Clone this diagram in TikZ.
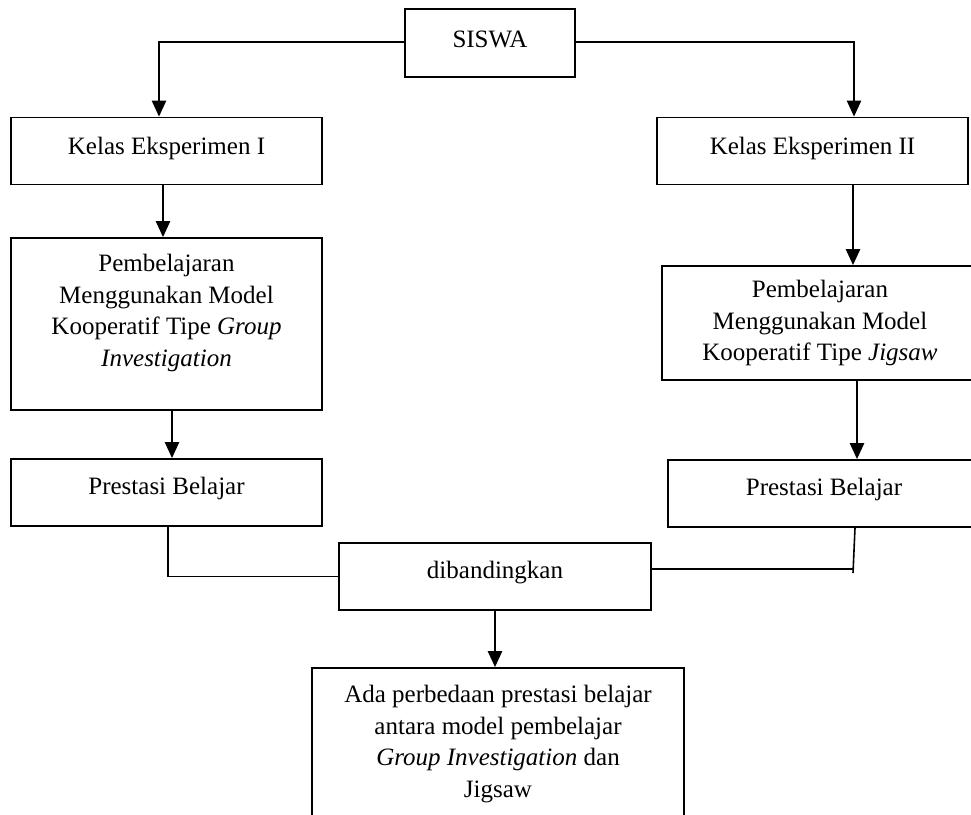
\documentclass[tikz,border=0pt]{standalone}
\usepackage{fontspec}
\setmainfont{Liberation Serif}
\usetikzlibrary{arrows.meta}
\begin{document}
\begin{tikzpicture}[x=1pt,y=-1pt,
  box/.style={draw, line width=1.7pt, inner sep=0pt, minimum width=311pt, minimum height=67pt},
  txt/.style={font=\fontsize{25}{31.5}\selectfont, align=center, inner sep=0pt},
  arr/.style={line width=2.4pt, -{Triangle[width=14pt,length=16pt]}},
  link/.style={line width=1.6pt}]
\useasboundingbox (0,0) rectangle (971,814);
\clip (0,0) rectangle (971,814);
% boxes
\node[box, minimum width=170pt, minimum height=68pt, label={[txt,yshift=4pt]center:SISWA}] (siswa) at (490,43) {};
\node[box, label={[txt,yshift=3pt]center:Kelas Eksperimen I}] (ke1) at (166.5,151) {};
\node[box, label={[txt,yshift=3pt]center:Kelas Eksperimen II}] (ke2) at (812.5,151) {};
\node[box, minimum height=172pt, label={[txt,yshift=11pt]center:Pembelajaran\\Menggunakan Model\\Kooperatif Tipe \textit{Group}\\\textit{Investigation}}] (pb1) at (166.5,324) {};
\node[box, minimum width=316pt, minimum height=114pt, label={[txt,yshift=0pt]center:Pembelajaran\\Menggunakan Model\\Kooperatif Tipe \textit{Jigsaw}}] (pb2) at (820,323) {};
\node[box, label={[txt,yshift=4pt]center:Prestasi Belajar}] (pr1) at (166.5,492.5) {};
\node[box, minimum width=312pt, label={[txt,yshift=4pt]center:Prestasi Belajar}] (pr2) at (824,493.5) {};
\node[box, minimum width=312pt, label={[txt,yshift=4pt]center:dibandingkan}] (dib) at (495,576.5) {};
\node[box, minimum width=372pt, minimum height=172pt, label={[txt,yshift=10pt]center:Ada perbedaan prestasi belajar\\antara model pembelajar\\\textit{Group Investigation} dan\\Jigsaw}] (hasil) at (498,754) {};
% connectors
\draw[arr] ([yshift=1pt]siswa.west) -| ([xshift=-7.5pt]ke1.north);
\draw[arr] ([yshift=1pt]siswa.east) -| ([xshift=41.5pt]ke2.north);
\draw[arr] ([xshift=-3.5pt]ke1.south) -- ([xshift=-3.5pt]pb1.north);
\draw[arr] ([xshift=5.5pt]pb1.south) -- ([xshift=5.5pt]pr1.south |- pr1.north);
\draw[arr] ([xshift=40.5pt]ke2.south) -- ([xshift=40.5pt]ke2.south |- pb2.north);
\draw[arr] ([xshift=37pt]pb2.south) -- ([xshift=37pt]pb2.south |- pr2.north);
\draw[link] ([xshift=1.5pt]pr1.south) |- (dib.west);
\coordinate (jr) at (854,569);
\coordinate (jt) at (853,573);
\draw[link] ([yshift=7.5pt]dib.east) -- (jr);
\draw[link] ([xshift=31pt]pr2.south) -- (jt);
\draw[arr] (dib.south) -- (dib.south |- hasil.north);
\end{tikzpicture}
\end{document}
